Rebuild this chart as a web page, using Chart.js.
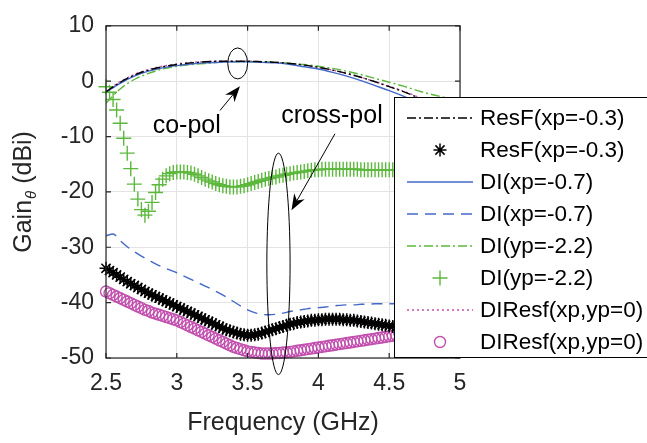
<!DOCTYPE html>
<html>
<head>
<meta charset="utf-8">
<script src="https://cdn.jsdelivr.net/npm/chart.js@4.4.1/dist/chart.umd.min.js"></script>
<style>
  html, body { margin: 0; padding: 0; background: #fff; }
  #wrap { width: 647px; height: 443px; }
</style>
</head>
<body>
<div id="wrap"><canvas id="gain-chart" width="647" height="443"></canvas></div>
<script>
// frequency grids (GHz)
const freqLine = [2.5, 2.6, 2.7, 2.8, 2.9, 3.0, 3.1, 3.2, 3.3, 3.4, 3.5, 3.6, 3.7, 3.8, 3.9,
  4.0, 4.1, 4.2, 4.3, 4.4, 4.5, 4.6, 4.7, 4.8, 4.9, 5.0];
const freqHalf = [2.5, 2.55, 2.6, 2.65, 2.7, 2.75, 2.8, 2.85, 2.9, 2.95, 3.0, 3.05, 3.1, 3.15, 3.2,
  3.25, 3.3, 3.35, 3.4, 3.45, 3.5, 3.55, 3.6, 3.65, 3.7, 3.75, 3.8, 3.85, 3.9, 3.95, 4.0,
  4.05, 4.1, 4.15, 4.2, 4.25, 4.3, 4.35, 4.4, 4.45, 4.5, 4.55, 4.6, 4.65, 4.7, 4.75, 4.8,
  4.85, 4.9, 4.95, 5.0];
const freqFine = [
  2.5, 2.525, 2.55, 2.575, 2.6, 2.625, 2.65, 2.675, 2.7, 2.725, 2.75, 2.775, 2.8, 2.825, 2.85, 2.875, 2.9, 2.925, 2.95, 2.975,
  3.0, 3.025, 3.05, 3.075, 3.1, 3.125, 3.15, 3.175, 3.2, 3.225, 3.25, 3.275, 3.3, 3.325, 3.35, 3.375, 3.4, 3.425, 3.45, 3.475,
  3.5, 3.525, 3.55, 3.575, 3.6, 3.625, 3.65, 3.675, 3.7, 3.725, 3.75, 3.775, 3.8, 3.825, 3.85, 3.875, 3.9, 3.925, 3.95, 3.975,
  4.0, 4.025, 4.05, 4.075, 4.1, 4.125, 4.15, 4.175, 4.2, 4.225, 4.25, 4.275, 4.3, 4.325, 4.35, 4.375, 4.4, 4.425, 4.45, 4.475,
  4.5, 4.525, 4.55, 4.575, 4.6, 4.625, 4.65, 4.675, 4.7, 4.725, 4.75, 4.775, 4.8, 4.825, 4.85, 4.875, 4.9, 4.925, 4.95, 4.975,
  5.0];

// co-pol gains (dBi) on freqLine
const resfCo   = [-1.9, -0.2, 1.1, 2.0, 2.6, 3.0, 3.3, 3.5, 3.6, 3.6, 3.6, 3.5, 3.4, 3.2, 2.9, 2.5, 2.0, 1.4, 0.7, -0.1, -1.0, -1.9, -2.9, -3.9, -4.9, -6.0];
const diXpCo   = [-2.0, -0.4, 0.9, 1.8, 2.4, 2.8, 3.1, 3.3, 3.4, 3.5, 3.5, 3.4, 3.3, 3.0, 2.6, 2.2, 1.6, 0.9, 0.1, -0.8, -1.7, -2.7, -3.8, -4.9, -6.0, -7.1];
const diYpCo   = [-4.0, -1.4, 0.3, 1.4, 2.2, 2.7, 3.0, 3.2, 3.4, 3.5, 3.5, 3.5, 3.4, 3.2, 3.0, 2.7, 2.3, 1.8, 1.2, 0.5, -0.2, -0.9, -1.7, -2.4, -3.0, -3.6];
const diresfCo = [-1.8, -0.1, 1.2, 2.1, 2.7, 3.1, 3.4, 3.5, 3.6, 3.6, 3.6, 3.5, 3.4, 3.2, 2.9, 2.5, 2.0, 1.4, 0.7, -0.1, -0.9, -1.8, -2.8, -3.8, -4.8, -5.8];

// cross-pol gains (dBi)
const diXpCross = [-27.9, -27.6, -28.8, -29.9, -30.8, -31.6, -32.3, -33.0, -33.6, -34.1, -34.6,
  -35.2, -35.8, -36.4, -37.0, -37.6, -38.3, -39.0, -39.8, -40.6, -41.3, -41.8, -42.1, -42.2,
  -42.1, -41.9, -41.6, -41.4, -41.2, -41.0, -40.9, -40.8, -40.6, -40.5, -40.4, -40.4, -40.3,
  -40.3, -40.2, -40.2, -40.2, -40.2, -40.1, -40.1, -40.1, -40.1, -40.1, -40.1, -40.1, -40.1, -40.1];
const resfCross = [
  -33.8, -34.2, -34.6, -35.0, -35.4, -35.8, -36.2, -36.6, -36.9, -37.3, -37.6, -38.0, -38.3, -38.6, -38.9, -39.2, -39.5, -39.8, -40.1, -40.4,
  -40.7, -41.0, -41.3, -41.6, -41.9, -42.2, -42.5, -42.8, -43.1, -43.4, -43.7, -44.0, -44.3, -44.6, -44.9, -45.1, -45.3, -45.5, -45.7, -45.8,
  -45.9, -45.9, -45.8, -45.7, -45.5, -45.3, -45.1, -44.9, -44.7, -44.5, -44.3, -44.1, -43.9, -43.8, -43.6, -43.5, -43.4, -43.3, -43.2, -43.2,
  -43.1, -43.1, -43.0, -43.0, -43.0, -43.0, -43.0, -43.1, -43.1, -43.2, -43.2, -43.3, -43.4, -43.5, -43.6, -43.7, -43.8, -43.9, -44.0, -44.1,
  -44.2, -44.3, -44.4, -44.5, -44.5, -44.6, -44.6, -44.7, -44.7, -44.7, -44.8, -44.8, -44.8, -44.8, -44.9, -44.9, -44.9, -44.9, -45.0, -45.0,
  -45.0];
const diYpCross = [
  -1.0, -2.0, -3.3, -5.2, -7.6, -10.3, -13.0, -15.8, -18.6, -21.3, -23.2, -24.2, -23.5, -21.9, -20.1, -18.7, -17.7, -17.1, -16.7, -16.5,
  -16.4, -16.4, -16.4, -16.5, -16.6, -16.8, -17.1, -17.4, -17.7, -18.0, -18.2, -18.5, -18.7, -18.9, -19.0, -19.1, -19.1, -19.1, -19.0, -18.9,
  -18.7, -18.5, -18.3, -18.1, -17.9, -17.7, -17.6, -17.4, -17.3, -17.1, -17.0, -16.8, -16.7, -16.6, -16.5, -16.4, -16.3, -16.2, -16.1, -16.0,
  -16.0, -15.9, -15.9, -15.9, -15.9, -15.9, -15.9, -15.9, -15.9, -15.9, -15.9, -15.9, -16.0, -16.0, -16.0, -16.0, -16.0, -16.0, -16.0, -16.0,
  -16.0, -16.0, -16.0, -16.0, -16.0, -16.0, -16.0, -16.0, -16.0, -16.0, -16.0, -16.0, -16.0, -16.0, -16.0, -16.0, -16.0, -16.0, -16.0, -16.0,
  -16.0];
const diresfCross = [
  -38.0, -38.3, -38.6, -38.9, -39.2, -39.5, -39.8, -40.1, -40.4, -40.7, -41.0, -41.3, -41.5, -41.8, -42.0, -42.2, -42.4, -42.6, -42.8, -43.0,
  -43.2, -43.5, -43.8, -44.1, -44.4, -44.7, -45.0, -45.3, -45.6, -45.9, -46.2, -46.5, -46.8, -47.1, -47.4, -47.7, -48.0, -48.2, -48.4, -48.6,
  -48.8, -48.9, -49.0, -49.1, -49.2, -49.2, -49.2, -49.2, -49.1, -49.1, -49.0, -49.0, -48.9, -48.8, -48.7, -48.6, -48.5, -48.4, -48.3, -48.2,
  -48.1, -48.0, -47.9, -47.8, -47.7, -47.6, -47.5, -47.4, -47.3, -47.2, -47.1, -47.0, -46.9, -46.8, -46.7, -46.6, -46.5, -46.4, -46.3, -46.2,
  -46.1, -46.0, -45.9, -45.8, -45.8, -45.7, -45.7, -45.6, -45.6, -45.6, -45.5, -45.5, -45.5, -45.5, -45.4, -45.4, -45.4, -45.4, -45.4, -45.4,
  -45.4];

const xTicks = [2.5, 3, 3.5, 4, 4.5, 5];
const yTicks = [-50, -40, -30, -20, -10, 0, 10];

const FONT = "'Liberation Sans', Arial, Helvetica, sans-serif";
const INK = "#262626";
const BLUE = "#4468c6";
const GREEN = "#5cb83c";
const MAGENTA = "#c24fae";

const pts = (xs, ys) => xs.map((f, i) => ({ x: f, y: ys[i] }));

function drawMarker(ctx, style, x, y, r) {
  ctx.beginPath();
  if (style === "circle") {
    ctx.arc(x, y, r, 0, Math.PI * 2);
  } else {
    const angles = style === "star" ? [0, 45, 90, 135] : [0, 90];
    angles.forEach((deg) => {
      const a = (deg * Math.PI) / 180;
      ctx.moveTo(x - r * Math.cos(a), y - r * Math.sin(a));
      ctx.lineTo(x + r * Math.cos(a), y + r * Math.sin(a));
    });
  }
  ctx.stroke();
}

function arrow(ctx, x0, y0, x1, y1) {
  const ang = Math.atan2(y1 - y0, x1 - x0);
  const len = 16, half = 6, notch = 11;
  const c = Math.cos(ang), s = Math.sin(ang);
  ctx.beginPath();
  ctx.moveTo(x0, y0);
  ctx.lineTo(x1 - notch * c, y1 - notch * s);
  ctx.stroke();
  ctx.beginPath();
  ctx.moveTo(x1, y1);
  ctx.lineTo(x1 - len * c + half * s, y1 - len * s - half * c);
  ctx.lineTo(x1 - notch * c, y1 - notch * s);
  ctx.lineTo(x1 - len * c - half * s, y1 - len * s + half * c);
  ctx.closePath();
  ctx.fill();
}

// box, inner ticks, y label, annotations and legend (drawn over the data like MATLAB)
const decor = {
  id: "decor",
  afterDraw(chart) {
    const { ctx, chartArea: a, scales: { x, y } } = chart;
    ctx.save();

    // axes box + inward ticks
    ctx.strokeStyle = INK;
    ctx.lineWidth = 1.2;
    ctx.strokeRect(a.left, a.top, a.right - a.left, a.bottom - a.top);
    ctx.beginPath();
    xTicks.forEach((v) => {
      const px = x.getPixelForValue(v);
      ctx.moveTo(px, a.bottom); ctx.lineTo(px, a.bottom - 5);
      ctx.moveTo(px, a.top); ctx.lineTo(px, a.top + 5);
    });
    yTicks.forEach((v) => {
      const py = y.getPixelForValue(v);
      ctx.moveTo(a.left, py); ctx.lineTo(a.left + 5, py);
      ctx.moveTo(a.right, py); ctx.lineTo(a.right - 5, py);
    });
    ctx.stroke();

    // y axis title with subscript theta
    ctx.save();
    ctx.translate(24, (a.top + a.bottom) / 2);
    ctx.rotate(-Math.PI / 2);
    ctx.fillStyle = INK;
    ctx.textBaseline = "middle";
    ctx.font = `25px ${FONT}`;
    const w1 = ctx.measureText("Gain").width;
    const w3 = ctx.measureText(" (dBi)").width;
    ctx.font = `italic 15px ${FONT}`;
    const w2 = ctx.measureText("\u03b8").width + 1;
    let tx = -(w1 + w2 + w3) / 2;
    ctx.font = `25px ${FONT}`;
    ctx.fillText("Gain", tx, 0);
    ctx.font = `italic 15px ${FONT}`;
    ctx.fillText("\u03b8", tx + w1 + 1, 8);
    ctx.font = `25px ${FONT}`;
    ctx.fillText(" (dBi)", tx + w1 + w2, 0);
    ctx.restore();

    // annotations, positioned in data units
    const px = (f) => x.getPixelForValue(f);
    const py = (g) => y.getPixelForValue(g);
    ctx.strokeStyle = "#000";
    ctx.fillStyle = "#000";
    ctx.lineWidth = 1;
    ctx.beginPath();
    ctx.ellipse(px(3.43), py(3.2), px(3.5) - px(3.43), py(0) - py(2.8), 0, 0, Math.PI * 2);
    ctx.stroke();
    ctx.beginPath();
    ctx.ellipse(px(3.718), py(-33), px(3.8) - px(3.718), py(-20) - py(0), 0, 0, Math.PI * 2);
    ctx.stroke();
    arrow(ctx, px(3.305), py(-5.3), px(3.446), py(-0.9));
    arrow(ctx, px(4.117), py(-9.5), px(3.81), py(-23.3));
    ctx.font = `25px ${FONT}`;
    ctx.textAlign = "center";
    ctx.textBaseline = "middle";
    ctx.fillText("co-pol", px(3.07), py(-8.1));
    ctx.fillText("cross-pol", px(4.096), py(-6.4));

    // legend box
    const lx = 394, ly = 97, lh = 260, rowH = 32;
    ctx.fillStyle = "#fff";
    ctx.fillRect(lx, ly, 300, lh);
    ctx.strokeStyle = "#000";
    ctx.lineWidth = 1;
    ctx.strokeRect(lx + 0.5, ly + 0.5, 300, lh);
    ctx.font = `22.5px ${FONT}`;
    ctx.textAlign = "left";
    ctx.textBaseline = "middle";
    chart.data.datasets.forEach((ds, i) => {
      const cy = ly + 21 + i * rowH;
      ctx.strokeStyle = ds.borderColor;
      if (ds.showLine === false) {
        ctx.setLineDash([]);
        ctx.lineWidth = ds.pointBorderWidth;
        drawMarker(ctx, ds.pointStyle, 440, cy, ds.pointRadius);
      } else {
        ctx.setLineDash(ds.borderDash || []);
        ctx.lineWidth = ds.borderWidth;
        ctx.beginPath();
        ctx.moveTo(407, cy);
        ctx.lineTo(473, cy);
        ctx.stroke();
      }
      ctx.setLineDash([]);
      ctx.fillStyle = "#000";
      ctx.fillText(ds.label, 480, cy + 1);
    });
    ctx.restore();
  },
};

const lineDefaults = { pointRadius: 0, borderWidth: 1.4, fill: false, cubicInterpolationMode: "monotone" };
const markerDefaults = { showLine: false, backgroundColor: "rgba(0,0,0,0)", pointBackgroundColor: "rgba(0,0,0,0)", clip: false };

new Chart(document.getElementById("gain-chart"), {
  type: "line",
  data: {
    datasets: [
      { ...lineDefaults, label: "ResF(xp=-0.3)", data: pts(freqLine, resfCo), borderColor: "#000", borderDash: [9, 3, 2, 3] },
      { ...markerDefaults, label: "ResF(xp=-0.3)", data: pts(freqFine, resfCross), borderColor: "#000",
        pointBorderColor: "#000", pointStyle: "star", pointRadius: 6.5, pointBorderWidth: 1.5 },
      { ...lineDefaults, label: "DI(xp=-0.7)", data: pts(freqLine, diXpCo), borderColor: BLUE },
      { ...lineDefaults, label: "DI(xp=-0.7)", data: pts(freqHalf, diXpCross), borderColor: BLUE, borderDash: [11, 7] },
      { ...lineDefaults, label: "DI(yp=-2.2)", data: pts(freqLine, diYpCo), borderColor: GREEN, borderDash: [9, 3, 2, 3] },
      { ...markerDefaults, label: "DI(yp=-2.2)", data: pts(freqFine, diYpCross), borderColor: GREEN,
        pointBorderColor: GREEN, pointStyle: "cross", pointRadius: 7.5, pointBorderWidth: 1.4 },
      { ...lineDefaults, label: "DIResf(xp,yp=0)", data: pts(freqLine, diresfCo), borderColor: MAGENTA, borderDash: [2, 3] },
      { ...markerDefaults, label: "DIResf(xp,yp=0)", data: pts(freqFine, diresfCross), borderColor: MAGENTA,
        pointBorderColor: MAGENTA, pointStyle: "circle", pointRadius: 5.5, pointBorderWidth: 1.4 },
    ],
  },
  options: {
    responsive: false,
    animation: false,
    devicePixelRatio: 1,
    layout: { padding: { top: 16, right: 187, left: 0, bottom: 0 } },
    plugins: { legend: { display: false }, tooltip: { enabled: false } },
    scales: {
      x: {
        type: "linear",
        min: 2.5,
        max: 5,
        afterBuildTicks: (s) => { s.ticks = xTicks.map((v) => ({ value: v })); },
        afterFit: (s) => { s.height = 85; },
        grid: { color: "#e3e3e3", drawTicks: false },
        border: { display: false },
        ticks: { color: INK, padding: 12, maxRotation: 0, font: { family: FONT, size: 23 }, callback: (v) => String(v) },
        title: { display: true, text: "Frequency (GHz)", color: INK, padding: { top: 0, bottom: 5 }, font: { family: FONT, size: 25 } },
      },
      y: {
        min: -50,
        max: 10,
        afterBuildTicks: (s) => { s.ticks = yTicks.map((v) => ({ value: v })); },
        afterFit: (s) => { s.width = 106; },
        grid: { color: "#e3e3e3", drawTicks: false },
        border: { display: false },
        ticks: { color: INK, padding: 12, font: { family: FONT, size: 23 }, callback: (v) => String(v) },
      },
    },
  },
  plugins: [decor],
});
</script>
</body>
</html>
